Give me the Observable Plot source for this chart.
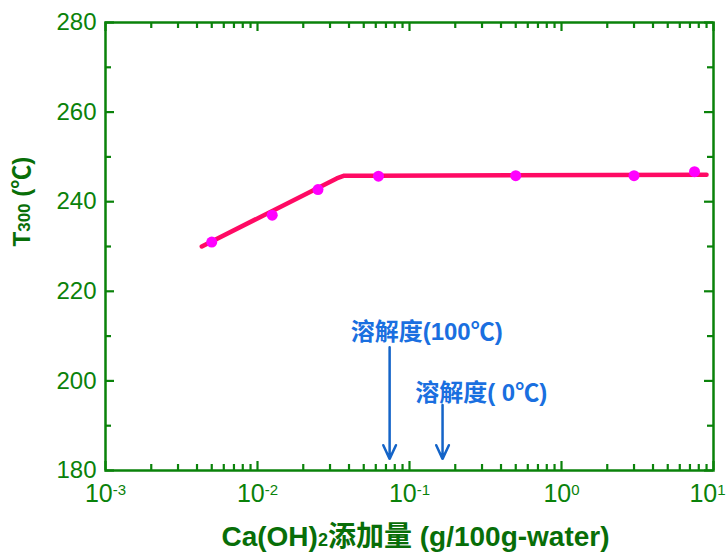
<!DOCTYPE html>
<html>
<head>
<meta charset="utf-8">
<script src="https://cdn.jsdelivr.net/npm/d3@7"></script>
<script src="https://cdn.jsdelivr.net/npm/@observablehq/plot@0.6"></script>
<style>
  html, body { margin: 0; padding: 0; background: #fff; }
  #chart { width: 728px; height: 556px; }
  svg { font-family: "Liberation Sans", Arial, sans-serif; }
</style>
</head>
<body>
<div id="chart"></div>
<script>
// measured points
const dosage = [0.005, 0.0125, 0.025, 0.0625, 0.5, 3, 7.5];
const t300 = [231, 237, 242.7, 245.7, 245.8, 245.8, 246.7];
// fitted line (two segments)
const fitX = [0.0043, 0.0332, 0.0372, 0.06, 9.0];
const fitY = [230, 245.2, 245.8, 245.8, 246.0];
// solubility markers
const solLabels = ["溶解度(100℃)", "溶解度( 0℃)"];
const solX = [0.074, 0.165];
const solLabelX = [0.041, 0.109];
const solLabelY = [210.8, 197.2];
const solArrowTop = [207.5, 194.6];
const solArrowBottom = [182.6, 182.6];
// ticks
const xMajor = [0.001, 0.01, 0.1, 1, 10];
const xMinor = [0.001, 0.01, 0.1, 1].flatMap(d => [2,3,4,5,6,7,8,9].map(k => k * d));
const xTickText = ["-3", "-2", "-1", "0", "1"];
const yMajor = [180, 200, 220, 240, 260, 280];
const yMinor = [190, 210, 230, 250, 270];

const green = "#0a820a";
const titleGreen = "#086e08";
const blue = "#1a6fe0";
const arrowBlue = "#1464c8";

const W = 728, H = 556, ML = 105, MR = 15, MT = 22, MB = 86;
const FW = W - ML - MR, FH = H - MT - MB;

const pts = dosage.map((x, i) => ({x, y: t300[i]}));
const fit = fitX.map((x, i) => ({x, y: fitY[i]}));
const sol = solLabels.map((t, i) => ({t, x: solX[i], lx: solLabelX[i], ly: solLabelY[i], y1: solArrowTop[i], y2: solArrowBottom[i]}));

const tk = {stroke: green, strokeWidth: 2.2};
const cjk = "'Liberation Sans', 'Noto Sans CJK SC', sans-serif";
const plot = Plot.plot({
  width: W,
  height: H,
  marginLeft: ML,
  marginRight: MR,
  marginTop: MT,
  marginBottom: MB,
  x: {type: "log", domain: [0.001, 10], axis: null},
  y: {domain: [180, 280], axis: null},
  marks: [
    Plot.frame({stroke: green, strokeWidth: 2.5}),
    // inward ticks on all four sides
    Plot.tickX(xMajor, {x: d => d, insetTop: FH - 9, ...tk}),
    Plot.tickX(xMinor, {x: d => d, insetTop: FH - 6, ...tk}),
    Plot.tickX(xMajor, {x: d => d, insetBottom: FH - 9, ...tk}),
    Plot.tickX(xMinor, {x: d => d, insetBottom: FH - 6, ...tk}),
    Plot.tickY(yMajor, {y: d => d, insetRight: FW - 9, ...tk}),
    Plot.tickY(yMinor, {y: d => d, insetRight: FW - 6, ...tk}),
    Plot.tickY(yMajor, {y: d => d, insetLeft: FW - 9, ...tk}),
    Plot.tickY(yMinor, {y: d => d, insetLeft: FW - 6, ...tk}),
    // tick labels
    Plot.axisY(yMajor, {anchor: "left", tickSize: 0, tickPadding: 9, fill: green, fontSize: 24, label: null, tickFormat: d => String(d)}),
    Plot.axisX(xMajor, {anchor: "bottom", tickSize: 0, tickPadding: 14, fill: green, fontSize: 25, label: null,
      tickFormat: d => "10^" + xTickText[xMajor.indexOf(d)]}),
    // fit line
    Plot.line(fit, {x: "x", y: "y", stroke: "#ff0a64", strokeWidth: 4.5, strokeLinecap: "round", strokeLinejoin: "round"}),
    // points
    Plot.dot(pts, {x: "x", y: "y", r: 5.5, fill: "#ff00ff", stroke: "none"}),
    // solubility arrows
    Plot.arrow(sol, {x: "x", y1: "y1", y2: "y2", stroke: arrowBlue, strokeWidth: 2.5, headLength: 9, headAngle: 50}),
    Plot.text(sol, {x: "lx", y: "ly", text: "t", textAnchor: "start", fill: blue, fontSize: 24, fontWeight: "bold", fontFamily: cjk}),
    // axis titles
    Plot.text(["Ca(OH)2添加量 (g/100g-water)"], {frameAnchor: "bottom", dy: 75, dx: 6, text: d => d, fill: titleGreen, fontSize: 28, fontWeight: "bold", fontFamily: cjk}),
    Plot.text(["T300 (℃)"], {frameAnchor: "left", dx: -83, rotate: -90, text: d => d, fill: titleGreen, fontSize: 24, fontWeight: "bold", fontFamily: cjk})
  ]
});
document.getElementById("chart").appendChild(plot);

// typographic refinement: superscripts / subscripts as tspans (text stays text)
const svgNS = "http://www.w3.org/2000/svg";
function fillParts(el, parts) {
  el.textContent = "";
  for (const [t, fs, dy] of parts) {
    const ts = document.createElementNS(svgNS, "tspan"); ts.textContent = t;
    if (fs) ts.setAttribute("font-size", fs);
    if (dy) ts.setAttribute("dy", dy);
    el.appendChild(ts);
  }
}
d3.select(plot).selectAll("text").each(function() {
  const el = this;
  const s = el.textContent;
  const m = s.match(/^10\^(-?\d+)$/);
  if (m) {
    fillParts(el, [["10"], [m[1], "15", "-0.5em"]]);
    if (m[1] === "1") el.setAttribute("dx", "-6"); // keep the last label inside the picture
    return;
  }
  if (s === "Ca(OH)2添加量 (g/100g-water)") { fillParts(el, [["Ca(OH)"], ["2", "18"], ["添加量"], [" (g/100g-water)"]]); return; }
  if (s === "T300 (℃)") { fillParts(el, [["T"], ["300", "17"], [" (℃)"]]); }
});
</script>
</body>
</html>
